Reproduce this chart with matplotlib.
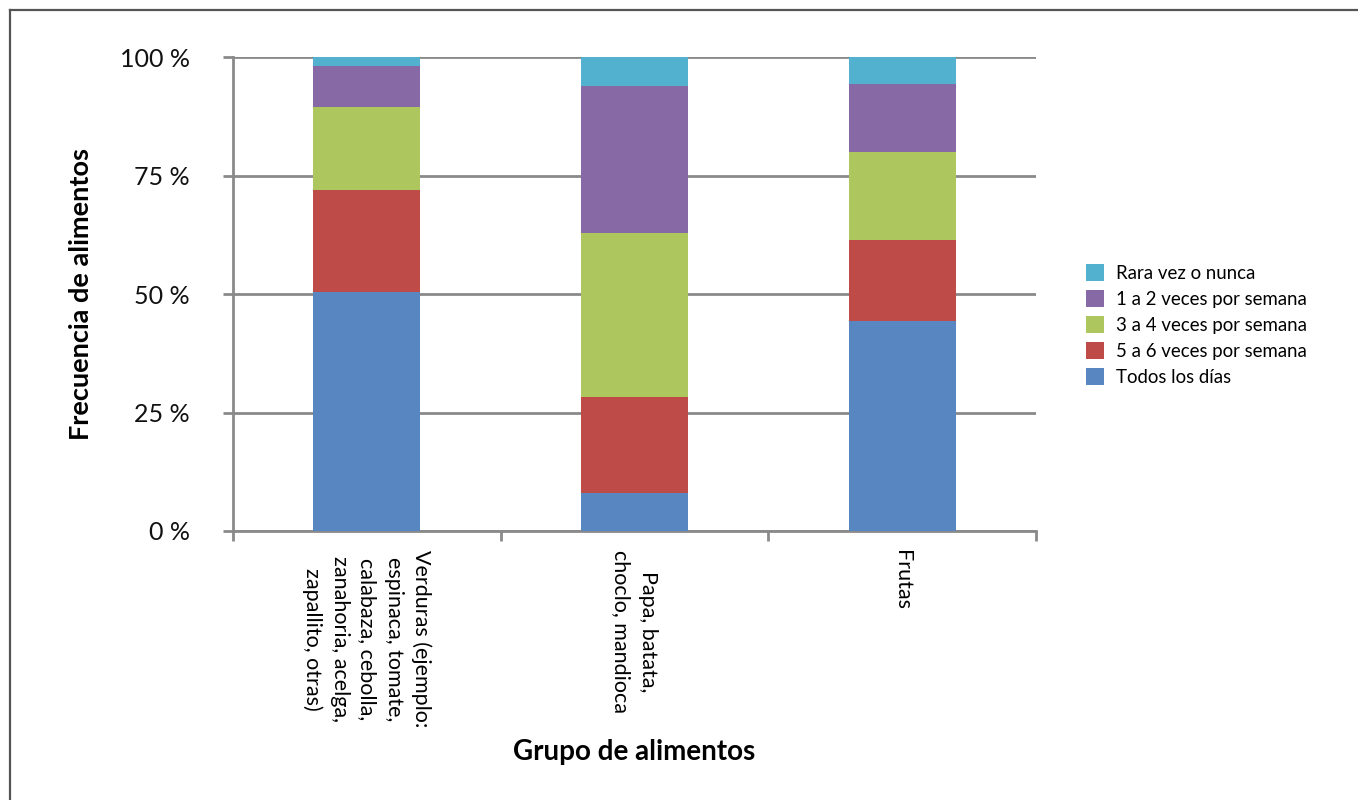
import matplotlib
matplotlib.use("Agg")
import matplotlib.pyplot as plt
from matplotlib.lines import Line2D
import numpy as np

plt.rcParams['font.family'] = ['Lato', 'DejaVu Sans']

categories = [
    "Verduras (ejemplo:\nespinaca, tomate,\ncalabaza, cebolla,\nzanahoria, acelga,\nzapallito, otras)",
    "Papa, batata,\nchoclo, mandioca",
    "Frutas",
]
series_names = ["Todos los días", "5 a 6 veces por semana", "3 a 4 veces por semana",
                "1 a 2 veces por semana", "Rara vez o nunca"]
todos = [50.5, 8.0, 44.4]
cinco_seis = [21.5, 20.2, 17.1]
tres_cuatro = [17.6, 34.7, 18.5]
uno_dos = [8.5, 31.1, 14.5]
rara = [1.9, 6.0, 5.5]
colors = ["#5886C1", "#BE4B48", "#ADC65E", "#8669A5", "#52B1CF"]
yticks = [0, 25, 50, 75, 100]
ytick_labels = ["0 %", "25 %", "50 %", "75 %", "100 %"]

W, H = 1358, 800
fig = plt.figure(figsize=(W / 100, H / 100), dpi=100)
ax = fig.add_axes([233 / W, 1 - 531 / H, (1036 - 233) / W, (531 - 57.5) / H])

x = np.arange(len(categories))
bottom = np.zeros(len(categories))
for vals, name, c in zip([todos, cinco_seis, tres_cuatro, uno_dos, rara], series_names, colors):
    ax.bar(x, vals, 0.4, bottom=bottom, color=c, label=name, zorder=3, linewidth=0)
    bottom += np.array(vals)

ax.set_xlim(-0.5, 2.5)
ax.set_ylim(0, 100)
ax.set_yticks(yticks)
ax.set_yticklabels(ytick_labels, fontsize=18, color="#111111")
grid_gray = "#8a8a8a"
ax.yaxis.grid(True, color=grid_gray, linewidth=2, zorder=0)
ax.set_axisbelow(True)

for s in ["top", "right"]:
    ax.spines[s].set_visible(False)
for s in ["left", "bottom"]:
    ax.spines[s].set_color(grid_gray)
    ax.spines[s].set_linewidth(2)
ax.tick_params(axis="y", length=7, width=2, color=grid_gray, pad=24)

# category ticks at boundaries, labels at centers
ax.set_xticks([-0.5, 0.5, 1.5, 2.5])
ax.set_xticklabels([])
ax.tick_params(axis="x", which="major", length=7, width=2, color=grid_gray)
ax.set_xticks(x, minor=True)
ax.set_xticklabels(categories, minor=True, rotation=-90, fontsize=15.5,
                   va="top", ha="center", multialignment="center", linespacing=1.45)
ax.tick_params(axis="x", which="minor", length=0, pad=14)

ax.set_ylabel("Frecuencia de alimentos", fontsize=19.5, fontweight="bold")
ax.yaxis.set_label_coords(-(233 - 93) / (1036 - 233), 0.5)
fig.text(634.5 / W, 1 - 752 / H, "Grupo de alimentos", fontsize=20, fontweight="bold",
         ha="center", va="center")

handles, labels = ax.get_legend_handles_labels()
fig.legend(handles[::-1], labels[::-1], loc="center left",
           bbox_to_anchor=(1080 / W, 1 - 325 / H), frameon=False, fontsize=13.4,
           handlelength=1.0, handleheight=1.0, handletextpad=0.65, labelspacing=0.45,
           borderaxespad=0, borderpad=0.3)

# outer frame
fig.add_artist(Line2D([10 / W, 1], [1 - 10 / H, 1 - 10 / H], color="#555555", linewidth=1.6))
fig.add_artist(Line2D([10 / W, 10 / W], [0, 1 - 10 / H], color="#555555", linewidth=1.6))

fig.savefig("out.png", dpi=100, facecolor="white")
